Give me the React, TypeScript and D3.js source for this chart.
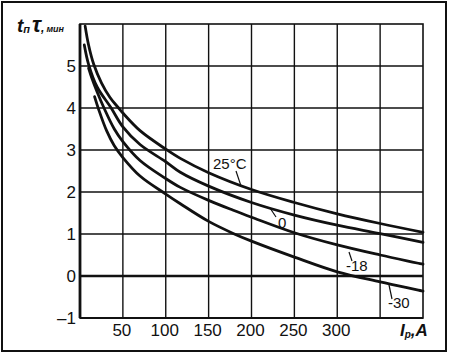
import React from "react";
import * as d3 from "d3";

const xTicks = [50, 100, 150, 200, 250, 300];
const xGrid = [50, 100, 150, 200, 250, 300, 350];
const yTicks = [-1, 0, 1, 2, 3, 4, 5];

const i25 = [6, 10, 16, 25, 35, 45, 50, 70, 100, 117, 150, 200, 250, 300, 350, 400];
const v25 = [5.95, 5.5, 5.04, 4.6, 4.25, 4.0, 3.88, 3.46, 3.02, 2.8, 2.46, 2.06, 1.75, 1.48, 1.25, 1.04];

const i0 = [5, 10, 20, 36, 50, 70, 100, 117, 150, 200, 250, 300, 350, 400];
const v0 = [5.5, 5.04, 4.5, 4.01, 3.55, 3.13, 2.72, 2.47, 2.14, 1.75, 1.45, 1.21, 1.01, 0.8];

const i18 = [10, 14, 20, 28, 40, 50, 70, 100, 117, 150, 178, 200, 250, 300, 350, 400];
const v18 = [4.95, 4.7, 4.38, 4.0, 3.5, 3.2, 2.75, 2.32, 2.11, 1.8, 1.57, 1.4, 1.03, 0.74, 0.5, 0.28];

const i30 = [17, 22, 31, 40, 50, 70, 100, 117, 150, 178, 200, 250, 300, 350, 400];
const v30 = [4.27, 3.95, 3.46, 3.1, 2.82, 2.38, 1.95, 1.72, 1.3, 1.02, 0.83, 0.45, 0.1, -0.14, -0.36];

const series = [
  { name: "25°C", i: i25, v: v25 },
  { name: "0", i: i0, v: v0 },
  { name: "-18", i: i18, v: v18 },
  { name: "-30", i: i30, v: v30 },
];

const W = 449;
const H = 355;
const L = 80, R = 423, T = 24, B = 318;
const font = "'Liberation Sans', Arial, Helvetica, sans-serif";

export default function App() {
  const x = d3.scaleLinear().domain([0, 400]).range([L, R]);
  const y = d3.scaleLinear().domain([-1, 6]).range([B, T]);
  const line = d3
    .line<[number, number]>()
    .x((d) => x(d[0]))
    .y((d) => y(d[1]))
    .curve(d3.curveCatmullRom.alpha(0.5));

  return (
    <svg
      width={W}
      height={H}
      style={{ position: "absolute", left: 0, top: 0, background: "#fff" }}
    >
      <rect x={0} y={0} width={W} height={H} fill="#fff" />
      <rect x={2} y={2} width={444} height={349} fill="none" stroke="#111" strokeWidth={2} />
      {xGrid.map((t) => (
        <line key={"gx" + t} x1={x(t)} x2={x(t)} y1={T} y2={B} stroke="#111" strokeWidth={1.4} />
      ))}
      {yTicks.map((t) => (
        <line
          key={"gy" + t}
          x1={L}
          x2={R}
          y1={y(t)}
          y2={y(t)}
          stroke="#111"
          strokeWidth={t === 0 ? 2.4 : 1.4}
        />
      ))}
      <rect x={L} y={T} width={R - L} height={B - T} fill="none" stroke="#111" strokeWidth={1.6} />
      <line x1={L} x2={L} y1={T} y2={B} stroke="#111" strokeWidth={2.8} />
      <line x1={L} x2={R} y1={B} y2={B} stroke="#111" strokeWidth={2.2} />
      {series.map((s) => (
        <path
          key={s.name}
          d={line(s.i.map((v, k) => [v, s.v[k]] as [number, number])) || ""}
          fill="none"
          stroke="#111"
          strokeWidth={2.8}
          strokeLinecap="round"
        />
      ))}
      {yTicks.map((t) => (
        <text
          key={"ty" + t}
          x={L - 4}
          y={y(t) + 6}
          textAnchor="end"
          fontFamily={font}
          fontSize={17}
          fill="#111"
        >
          {t < 0 ? "\u2013" + Math.abs(t) : t}
        </text>
      ))}
      {xTicks.map((t) => (
        <text
          key={"tx" + t}
          x={x(t) - 1}
          y={336}
          textAnchor="middle"
          fontFamily={font}
          fontSize={17}
          fill="#111"
        >
          {t}
        </text>
      ))}
      <text x={400} y={336} fontFamily={font} fontWeight="bold" fontStyle="italic" fill="#111">
        <tspan fontSize={17}>I</tspan>
        <tspan fontSize={10} dy={2}>р</tspan>
        <tspan fontSize={17} dy={-2}>,A</tspan>
      </text>
      <text x={17} y={32} fontFamily={font} fontWeight="bold" fontStyle="italic" fill="#111">
        <tspan fontSize={19}>t</tspan>
        <tspan fontSize={11} dy={1}>п</tspan>
        <tspan fontSize={22} dy={-1} dx={2}>τ</tspan>
        <tspan fontSize={12}>,</tspan>
        <tspan fontSize={9} dx={2}>мин</tspan>
      </text>
      <text x={213} y={169} fontFamily={font} fontSize={15} fill="#111">25°C</text>
      <line x1={236} y1={171} x2={241} y2={186} stroke="#111" strokeWidth={1.2} />
      <text x={278} y={228} fontFamily={font} fontSize={15} fill="#111">0</text>
      <line x1={270} y1={208} x2={276} y2={217} stroke="#111" strokeWidth={1.2} />
      <text x={346} y={271} fontFamily={font} fontSize={15} fill="#111">{"-18"}</text>
      <line x1={349} y1={252} x2={352} y2={261} stroke="#111" strokeWidth={1.2} />
      <text x={388} y={308} fontFamily={font} fontSize={15} fill="#111">{"-30"}</text>
      <line x1={389} y1={285} x2={392} y2={299} stroke="#111" strokeWidth={1.2} />
    </svg>
  );
}
